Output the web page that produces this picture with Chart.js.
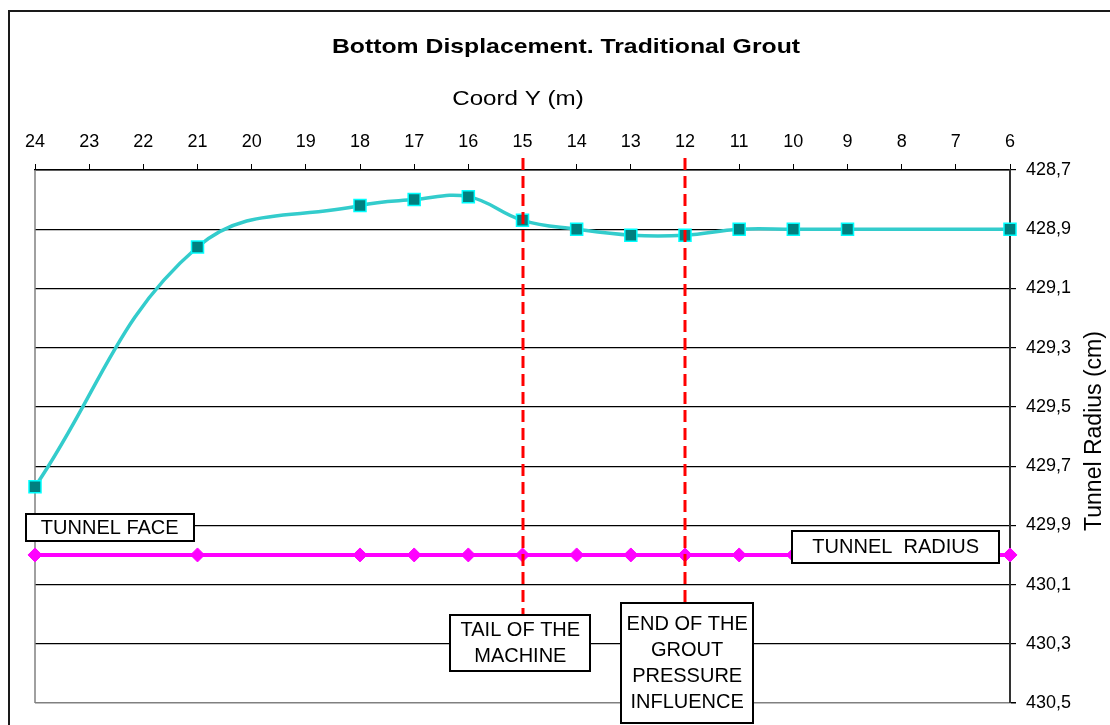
<!DOCTYPE html>
<html>
<head>
<meta charset="utf-8">
<script src="https://cdn.jsdelivr.net/npm/chart.js@4"></script>
<style>
  html, body { margin: 0; padding: 0; background: #fff; }
  #wrap { width: 1110px; height: 725px; position: relative; }
</style>
</head>
<body>
<div id="wrap"><canvas id="chart"></canvas></div>
<script>
// Coord Y stations (m) and the measured tunnel bottom radius (cm)
const coordY = [24, 21, 18, 17, 16, 15, 14, 13, 12, 11, 10, 9, 6];
const bottomRadius = [429.77, 428.96, 428.82, 428.80, 428.79, 428.87, 428.90, 428.92, 428.92, 428.90, 428.90, 428.90, 428.90];
const tunnelRadius = [430.0, 430.0, 430.0, 430.0, 430.0, 430.0, 430.0, 430.0, 430.0, 430.0, 430.0, 430.0, 430.0];

const xTicks = [24, 23, 22, 21, 20, 19, 18, 17, 16, 15, 14, 13, 12, 11, 10, 9, 8, 7, 6];
const yTicks = [428.7, 428.9, 429.1, 429.3, 429.5, 429.7, 429.9, 430.1, 430.3, 430.5];

// machine reference stations (red dashed)
const markerStations = [15, 12];

const FONT = 'Liberation Sans, Arial, sans-serif';
const TITLE = 'Bottom Displacement. Traditional Grout';
const X_TITLE = 'Coord Y (m)';
const Y_TITLE = 'Tunnel Radius (cm)';

// text boxes: anchor in axis units, size in px
const notes = [
  { lines: ['TUNNEL FACE'], x: 22.62, y: 429.906, w: 168, h: 27 },
  { lines: ['TUNNEL  RADIUS'], x: 8.11, y: 429.972, w: 207, h: 32 },
  { lines: ['TAIL OF THE', 'MACHINE'], x: 15.04, y: 430.296, w: 140, h: 56 },
  { lines: ['END OF THE', 'GROUT', 'PRESSURE', 'INFLUENCE'], x: 11.96, y: 430.364, w: 132, h: 120 }
];

// draw a line of text squeezed/stretched along x
function wideText(ctx, text, x, y, font, sx) {
  ctx.save();
  ctx.translate(x, y);
  ctx.scale(sx, 1);
  ctx.font = font;
  ctx.fillStyle = '#000';
  ctx.textAlign = 'center';
  ctx.textBaseline = 'middle';
  ctx.fillText(text, 0, 0);
  ctx.restore();
}

const decorations = {
  id: 'decorations',
  beforeDraw(chart) {
    const ctx = chart.ctx;
    ctx.save();
    ctx.fillStyle = '#fff';
    ctx.fillRect(0, 0, chart.width, chart.height);
    ctx.strokeStyle = '#1a1a1a';
    ctx.lineWidth = 2;
    ctx.strokeRect(9, 11, chart.width + 20, chart.height + 20);
    ctx.restore();
  },
  beforeDatasetsDraw(chart) {
    const { ctx, chartArea: a } = chart;
    ctx.save();
    ctx.strokeStyle = '#808080';
    ctx.lineWidth = 1.5;
    ctx.beginPath();
    ctx.moveTo(a.left, a.top);
    ctx.lineTo(a.left, a.bottom);
    ctx.stroke();
    ctx.restore();
  },
  afterDatasetsDraw(chart) {
    const { ctx, chartArea: a } = chart;
    const xs = chart.scales.x, ys = chart.scales.y;
    ctx.save();
    // vertical reference lines
    ctx.strokeStyle = '#ff0000';
    ctx.lineWidth = 3;
    ctx.setLineDash([12, 6]);
    markerStations.forEach(st => {
      const px = Math.round(xs.getPixelForValue(st));
      ctx.beginPath();
      ctx.moveTo(px, a.top - 12);
      ctx.lineTo(px, ys.getPixelForValue(430.25));
      ctx.stroke();
    });
    ctx.setLineDash([]);
    // annotation boxes
    ctx.font = '20px ' + FONT;
    ctx.textAlign = 'center';
    ctx.textBaseline = 'middle';
    notes.forEach(n => {
      const cx = xs.getPixelForValue(n.x);
      const cy = ys.getPixelForValue(n.y);
      const l = Math.round(cx - n.w / 2), t = Math.round(cy - n.h / 2);
      ctx.fillStyle = '#fff';
      ctx.fillRect(l, t, n.w, n.h);
      ctx.strokeStyle = '#000';
      ctx.lineWidth = 2;
      ctx.strokeRect(l, t, n.w, n.h);
      ctx.fillStyle = '#000';
      const lh = 26;
      const y0 = cy - (n.lines.length - 1) * lh / 2;
      n.lines.forEach((s, i) => ctx.fillText(s, cx, y0 + i * lh + 1));
    });
    ctx.restore();
  },
  afterDraw(chart) {
    const { ctx } = chart;
    wideText(ctx, TITLE, 566, 47, 'bold 21px ' + FONT, 1.18);
    wideText(ctx, X_TITLE, 518, 99, '21px ' + FONT, 1.15);
    ctx.save();
    ctx.translate(1095, 431);
    ctx.rotate(-Math.PI / 2);
    ctx.font = '23px ' + FONT;
    ctx.fillStyle = '#000';
    ctx.textAlign = 'center';
    ctx.textBaseline = 'middle';
    ctx.fillText(Y_TITLE, 0, 0);
    ctx.restore();
  }
};

new Chart(document.getElementById('chart'), {
  type: 'line',
  data: {
    datasets: [
      {
        label: 'Bottom',
        data: coordY.map((x, i) => ({ x, y: bottomRadius[i] })),
        borderColor: '#33cccc',
        borderWidth: 3.5,
        tension: 0.4,
        pointStyle: 'rect',
        pointRadius: 8.5,
        pointBackgroundColor: '#008080',
        pointBorderColor: '#00ffff',
        pointBorderWidth: 1.5,
        clip: false
      },
      {
        label: 'Tunnel radius',
        data: coordY.map((x, i) => ({ x, y: tunnelRadius[i] })),
        borderColor: '#ff00ff',
        borderWidth: 4,
        tension: 0,
        pointStyle: 'rectRot',
        pointRadius: 7,
        pointBackgroundColor: '#ff00ff',
        pointBorderColor: '#ff00ff',
        pointBorderWidth: 1,
        clip: false
      }
    ]
  },
  options: {
    responsive: true,
    maintainAspectRatio: false,
    devicePixelRatio: 1,
    animation: false,
    events: [],
    layout: { padding: { left: 35, right: 0, top: 70, bottom: 22 } },
    plugins: {
      legend: { display: false },
      tooltip: { enabled: false },
      title: { display: false }
    },
    scales: {
      x: {
        type: 'linear',
        position: 'top',
        reverse: true,
        min: 6,
        max: 24,
        afterBuildTicks: s => { s.ticks = xTicks.map(v => ({ value: v })); },
        afterFit: s => { s.height = 100; },
        ticks: {
          color: '#000',
          font: { family: FONT, size: 18 },
          padding: 11,
          maxRotation: 0,
          autoSkip: false,
          callback: v => String(v)
        },
        grid: { drawOnChartArea: false, drawTicks: true, tickLength: 6, tickColor: '#000' },
        border: { display: true, color: '#000', width: 1.5 }
      },
      y: {
        type: 'linear',
        position: 'right',
        reverse: true,
        min: 428.7,
        max: 430.5,
        afterBuildTicks: s => { s.ticks = yTicks.map(v => ({ value: v })); },
        afterFit: s => { s.width = 100; },
        ticks: {
          color: '#000',
          font: { family: FONT, size: 18 },
          padding: 10,
          autoSkip: false,
          callback: v => v.toFixed(1).replace('.', ',')
        },
        grid: {
          color: c => (c.tick && c.tick.value === 430.5 ? '#808080' : '#000'),
          lineWidth: c => (c.tick && c.tick.value === 430.5 ? 1.5 : 1.2),
          drawTicks: true,
          tickLength: 6,
          tickColor: '#000'
        },
        border: { display: true, color: '#333', width: 2 }
      }
    }
  },
  plugins: [decorations]
});
</script>
</body>
</html>
